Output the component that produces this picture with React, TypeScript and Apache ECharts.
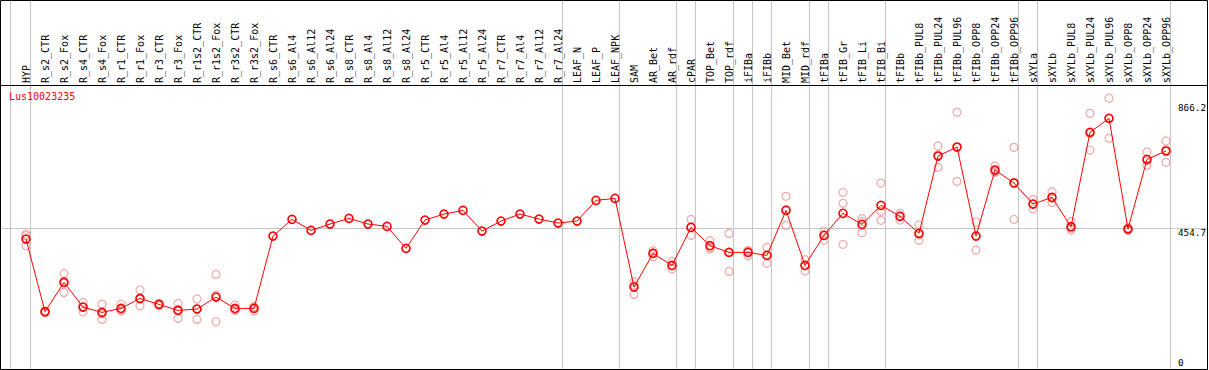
import React, { useEffect, useRef } from "react";
import * as echarts from "echarts";

const categories = [
  "HYP", "R_s2_CTR", "R_s2_Fox", "R_s4_CTR", "R_s4_Fox", "R_r1_CTR", "R_r1_Fox", "R_r3_CTR", "R_r3_Fox",
  "R_r1s2_CTR", "R_r1s2_Fox", "R_r3s2_CTR", "R_r3s2_Fox", "R_s6_CTR", "R_s6_Al4", "R_s6_Al12", "R_s6_Al24",
  "R_s8_CTR", "R_s8_Al4", "R_s8_Al12", "R_s8_Al24", "R_r5_CTR", "R_r5_Al4", "R_r5_Al12", "R_r5_Al24",
  "R_r7_CTR", "R_r7_Al4", "R_r7_Al12", "R_r7_Al24", "LEAF_N", "LEAF_P", "LEAF_NPK", "SAM", "AR_Bet", "AR_rdf",
  "cPAR", "TOP_Bet", "TOP_rdf", "iFIBa", "iFIBb", "MID_Bet", "MID_rdf", "tFIBa", "tFIB_Gr", "tFIB_Li", "tFIB_Bi",
  "tFIBb", "tFIBb_PUL8", "tFIBb_PUL24", "tFIBb_PUL96", "tFIBb_OPP8", "tFIBb_OPP24", "tFIBb_OPP96", "sXYLa",
  "sXYLb", "sXYLb_PUL8", "sXYLb_PUL24", "sXYLb_PUL96", "sXYLb_OPP8", "sXYLb_OPP24", "sXYLb_OPP96",
];

const meanValues = [
  420.7, 190.7, 283.5, 205.4, 188.6, 201.2, 232.9, 213.9, 194.9, 199.1, 237.1, 201.2, 201.2,
  430.2, 483, 448.1, 468.2, 486.1, 468.2, 460.8, 391.2, 480.8, 499.8, 511.4, 446, 477.7, 499.8, 484, 471.3, 477.7, 543.1, 549.4,
  268.8, 375.3, 337.3, 457.6, 399.6, 378.5, 378.5, 369, 511.4, 337.3, 432.3, 502, 467.1, 527.3, 492.4, 438.6,
  683.4, 711.9, 430.2, 639.1, 598, 531.5, 552.6, 459.7, 758.4, 802.7, 452.4, 672.9, 699.3,
];

const N = null;
const replicateA = [
  436.5, 193, 312, 220.2, 214.9, 213.9, 259.3, 216, 217, 230.8, 308.8, 211.8, 203.3,
  N, N, N, N, N, N, N, N, N, N, N, N, N, N, N, N, N, N, N,
  285.6, 383.8, 350, 483, 415.4, 438.6, 383.8, 394.3, 555.8, 355.3, 446, 568.4, 485, 598, 502, 465,
  715.1, 821.7, 474.5, 651.8, 710.9, 546.3, 570.5, 475.6, 818.5, 866.2, 456.6, 696.1, 730.9,
];
const replicateB = [
  399.6, 188, 251.9, 190.7, 166.4, 192.8, 209.6, 209.6, 169.6, 166.4, 159, 194.9, 192.8,
  N, N, N, N, N, N, N, N, N, N, N, N, N, N, N, N, N, N, N,
  245.5, 364.8, 325.7, 432.3, 389.1, 318.3, 367.9, 343.7, 464, 320.4, 417.5, 403.8, 440.8, 479.8, 480.8, 416.5,
  647.6, 603.3, 385.9, 631.7, 483, 515.7, 536.8, 449.2, 702.4, 739.4, 448.1, 653.9, 663.4,
];
const replicateC = [
  431.2, 191, 287, 205, 184, 197, 230, 216, 198, 200, 243, 197, 207,
  N, N, N, N, N, N, N, N, N, N, N, N, N, N, N, N, N, N, N,
  275, 377, 336, 458, 394, 378.5, 384, 369, 514, 336, 433, 533.6, 475.5, 508.3, 494, 434,
  687, 710.7, 430, 634, 600, 532, 550, 455, 754, 803, 452, 669, 703,
];

const geneName = "Lus10023235";
const yTickLow = [0];
const yTickMid = [454.7];
const yTickTop = [866.2];
const referenceLine = 454.7;
// separators drawn after these category indices (-1 = before the first one)
const separatorsAfter = [-1, 0, 28, 31, 34, 35, 37, 38, 39, 41, 42, 45, 52, 53, 60];

const MONO = "DejaVu Sans Mono";
const W = 1209;
const H = 370;

export default function App() {
  const ref = useRef<HTMLDivElement>(null);

  useEffect(() => {
    const chart = echarts.init(ref.current!, null, { renderer: "svg" });
    const yMin = 0;
    const yMax = 905;

    const yAx = (vals: number[], vAlign: string, lineHeight: number) => ({
      type: "value",
      position: "right",
      min: yMin,
      max: yMax,
      axisLine: { show: false },
      axisTick: { show: false },
      splitLine: { show: false },
      axisLabel: {
        customValues: vals,
        margin: 12,
        align: "left",
        verticalAlign: vAlign,
        lineHeight,
        fontFamily: MONO,
        fontSize: 9.3,
        color: "#000",
        formatter: (v: number) => String(v),
      },
    });

    const repPoints: [string, number][] = [];
    [replicateA, replicateB, replicateC].forEach((arr) =>
      arr.forEach((v, i) => {
        if (v !== null && v !== undefined) repPoints.push([categories[i], v as number]);
      })
    );

    chart.setOption({
      animation: false,
      backgroundColor: "#fff",
      title: {
        text: geneName,
        left: 9,
        top: 91,
        padding: 0,
        textStyle: { color: "#ff0000", fontFamily: MONO, fontSize: 10, fontWeight: "normal" },
      },
      grid: { left: 26, right: 43, top: 86, height: 286, outerBoundsMode: "none", containLabel: false },
      xAxis: {
        type: "category",
        data: categories,
        position: "top",
        boundaryGap: false,
        axisLine: { show: false },
        axisTick: { show: false },
        splitLine: { show: false },
        axisLabel: {
          interval: 0,
          rotate: 90,
          margin: 3,
          fontFamily: MONO,
          fontSize: 10,
          color: "#000",
        },
      },
      yAxis: [yAx(yTickLow, "bottom", 20), yAx(yTickMid, "top", 8), yAx(yTickTop, "top", 19)],
      series: [
        {
          type: "scatter",
          data: repPoints,
          symbol: "circle",
          symbolSize: 8,
          itemStyle: { color: "rgba(255,255,255,0)", borderColor: "#ee9393", borderWidth: 1.2 },
          z: 2,
          silent: true,
        },
        {
          type: "line",
          data: meanValues,
          symbol: "circle",
          symbolSize: 8,
          showAllSymbol: true,
          itemStyle: { color: "rgba(255,255,255,0)", borderColor: "#ff0000", borderWidth: 1.6 },
          lineStyle: { color: "#ff0000", width: 1 },
          z: 3,
          silent: true,
        },
      ],
    });

    const x0 = chart.convertToPixel({ xAxisIndex: 0 }, categories[0]) as number;
    const x1 = chart.convertToPixel({ xAxisIndex: 0 }, categories[1]) as number;
    const step = x1 - x0;
    const yRef = chart.convertToPixel({ yAxisIndex: 0 }, referenceLine) as number;

    const grey = "#c4c4c4";
    const graphics: any[] = [];
    separatorsAfter.forEach((i) => {
      const x = Math.round(x0 + i * step + 4.3) + 0.5 - (i < 0 ? 1 : 0);
      graphics.push({
        type: "line",
        z: 0,
        silent: true,
        shape: { x1: x, y1: 0, x2: x, y2: 369 },
        style: { stroke: grey, lineWidth: 1 },
      });
    });
    graphics.push({
      type: "line",
      z: 0,
      silent: true,
      shape: { x1: 1, y1: Math.round(yRef) + 0.5, x2: 1207, y2: Math.round(yRef) + 0.5 },
      style: { stroke: grey, lineWidth: 1 },
    });
    graphics.push({
      type: "line",
      z: 1,
      silent: true,
      shape: { x1: 0, y1: 85.5, x2: 1208, y2: 85.5 },
      style: { stroke: "#000", lineWidth: 1 },
    });
    graphics.push({
      type: "rect",
      z: 1,
      silent: true,
      shape: { x: 0.5, y: 0.5, width: 1207, height: 369 },
      style: { fill: "none", stroke: "#000", lineWidth: 1 },
    });
    chart.setOption({ graphic: graphics });

    return () => chart.dispose();
  }, []);

  return (
    <div
      ref={ref}
      style={{ position: "fixed", left: 0, top: 0, width: W, height: H, background: "#fff" }}
    />
  );
}
